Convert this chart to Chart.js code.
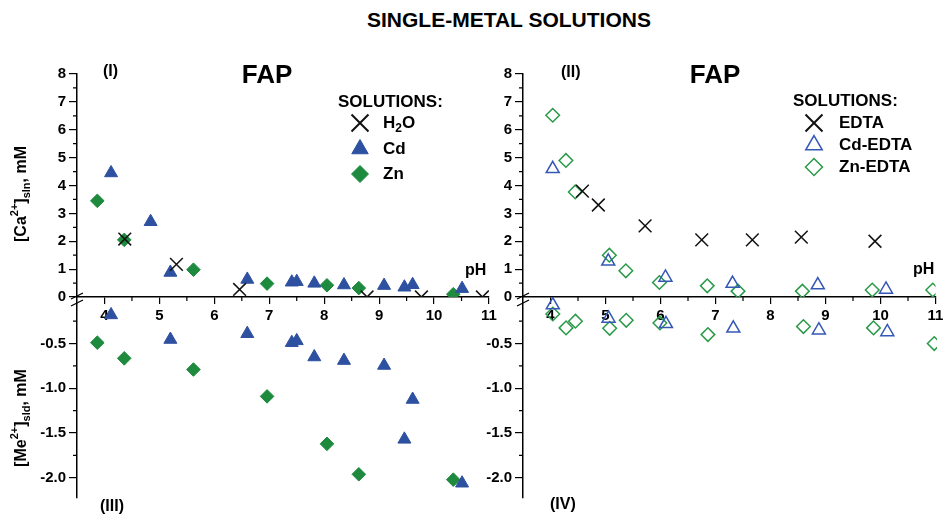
<!DOCTYPE html>
<html>
<head>
<meta charset="utf-8">
<script src="https://cdn.jsdelivr.net/npm/chart.js@4.4.1/dist/chart.umd.min.js"></script>
<style>
  body { margin: 0; background: #fff; }
  #wrap { position: relative; width: 946px; height: 528px; overflow: hidden; }
  #wrap canvas { position: absolute; left: 0; top: 0; }
  #title { position: absolute; left: 367px; top: 8px; font: bold 21px "Liberation Sans", Arial, sans-serif; color: #000; white-space: nowrap; }
</style>
</head>
<body>
<div id="wrap">
  <div id="title">SINGLE-METAL SOLUTIONS</div>
  <canvas id="c1" width="946" height="528"></canvas>
  <canvas id="c2" width="946" height="528"></canvas>
  <canvas id="c3" width="946" height="528"></canvas>
  <canvas id="c4" width="946" height="528"></canvas>
</div>
<script>
// pH ticks shared by all four panels
const phTicks = [4, 5, 6, 7, 8, 9, 10, 11];
const caTicks = [0, 1, 2, 3, 4, 5, 6, 7, 8];
const meTicks = [-0.5, -1.0, -1.5, -2.0];

// (I) / (III) single-metal solutions
const phH2O = [4.37, 5.31, 6.46, 8.78, 9.77, 10.88];
const caH2O = [2.08, 1.17, 0.27, 0, 0, 0];

const phCd = [4.12, 4.84, 5.2, 6.6, 7.41, 7.5, 7.82, 8.36, 9.09, 9.46, 9.61, 10.51];
const caCd = [4.45, 2.7, 0.88, 0.63, 0.53, 0.55, 0.49, 0.43, 0.41, 0.35, 0.44, 0.30];
const meCd = [-0.18, null, -0.455, -0.39, -0.49, -0.47, -0.65, -0.69, -0.745, -1.57, -1.125, -2.06];

const phZn = [3.87, 4.36, 5.62, 6.96, 8.05, 8.63, 10.35];
const caZn = [3.45, 2.05, 0.98, 0.48, 0.42, 0.32, 0.1];
const meZn = [-0.49, -0.665, -0.79, -1.09, -1.62, -1.96, -2.02];

// (II) / (IV) EDTA solutions
const phEDTA = [4.58, 4.87, 5.72, 6.75, 7.67, 8.56, 9.9];
const caEDTA = [3.8, 3.3, 2.55, 2.05, 2.05, 2.15, 2.0];

const phCdEDTA = [4.04, 5.05, 6.09, 7.31, 8.86, 10.1];
const caCdEDTA = [4.6, 1.28, 0.7, 0.48, 0.43, 0.27];
const meCdEDTA = [-0.07, -0.22, -0.28, -0.33, -0.35, -0.37];

const phZnEDTA = [4.04, 4.28, 4.45, 5.07, 5.37, 5.98, 6.85, 7.41, 8.58, 9.85, 10.95];
const caZnEDTA = [6.52, 4.9, 3.77, 1.5, 0.94, 0.52, 0.4, 0.21, 0.21, 0.25, 0.25];
const meZnEDTA = [-0.17, -0.325, -0.25, -0.33, -0.24, -0.27, -0.40, null, -0.31, -0.325, -0.5];

const FONT = '"Liberation Sans", Arial, sans-serif';
const BLUE = '#2e50a0', GREEN = '#1e8a3e', OBLUE = '#3558b5', OGREEN = '#2a9a48';

function pts(xs, ys) {
  return xs.map((x, i) => ({ x: x, y: ys[i] })).filter(p => p.y !== null);
}

function xCross(label, xs, ys) {
  return { label, data: pts(xs, ys), pointStyle: 'crossRot', pointRadius: 9, borderColor: '#111', backgroundColor: '#111', borderWidth: 1.5 };
}
function tri(label, xs, ys, open) {
  return { label, data: pts(xs, ys), pointStyle: 'triangle', pointRadius: 7.5,
    borderColor: open ? OBLUE : BLUE, backgroundColor: open ? 'rgba(0,0,0,0)' : BLUE, borderWidth: open ? 1.5 : 1 };
}
function dia(label, xs, ys, open) {
  return { label, data: pts(xs, ys), pointStyle: 'rectRot', pointRadius: 6.8,
    borderColor: open ? OGREEN : GREEN, backgroundColor: open ? 'rgba(0,0,0,0)' : GREEN, borderWidth: open ? 1.5 : 1 };
}

// text with super/subscripts: parts = [[text, shift]] shift 1 sup, -1 sub
function drawRich(ctx, parts, x, y, size, align) {
  const small = Math.round(size * 0.7);
  const f = s => 'bold ' + s + 'px ' + FONT;
  let w = 0;
  parts.forEach(p => { ctx.font = f(p[1] ? small : size); w += ctx.measureText(p[0]).width; });
  let cx = align === 'center' ? x - w / 2 : x;
  ctx.textAlign = 'left';
  ctx.textBaseline = 'middle';
  parts.forEach(p => {
    ctx.font = f(p[1] ? small : size);
    const dy = p[1] > 0 ? -size * 0.42 : p[1] < 0 ? size * 0.32 : 0;
    ctx.fillText(p[0], cx, y + dy);
    cx += ctx.measureText(p[0]).width;
  });
}

function decor(cfg) {
  return {
    id: 'decor',
    afterDraw(chart) {
      const ctx = chart.ctx, area = chart.chartArea;
      const xs = chart.scales.x, ys = chart.scales.y;
      ctx.save();
      ctx.strokeStyle = '#000';
      ctx.fillStyle = '#000';
      ctx.lineWidth = 1.2;
      ctx.beginPath();
      (cfg.xMinor || []).forEach(v => {
        const p = xs.getPixelForValue(v);
        ctx.moveTo(p, area.bottom); ctx.lineTo(p, area.bottom + 4);
      });
      (cfg.yMinor || []).forEach(v => {
        const p = ys.getPixelForValue(v);
        ctx.moveTo(area.left - 4, p); ctx.lineTo(area.left, p);
      });
      ctx.stroke();

      if (cfg.breakMark) {
        const bx = area.left, by = area.top;
        ctx.lineWidth = 1.3;
        ctx.beginPath();
        ctx.moveTo(bx - 6, by + 2); ctx.lineTo(bx + 6, by - 4);
        ctx.moveTo(bx - 6, by + 9); ctx.lineTo(bx + 6, by + 3);
        ctx.stroke();
      }

      (cfg.texts || []).forEach(t => {
        if (t.rot) {
          ctx.save();
          ctx.translate(t.x, t.y);
          ctx.rotate(-Math.PI / 2);
          drawRich(ctx, t.parts, 0, 0, t.size, 'center');
          ctx.restore();
        } else {
          drawRich(ctx, t.parts, t.x, t.y, t.size, t.align);
        }
      });

      const lg = cfg.legend;
      if (lg) {
        drawRich(ctx, [['SOLUTIONS:', 0]], lg.x, lg.y, 17, 'left');
        lg.rows.forEach((r, i) => {
          const ds = chart.data.datasets[i];
          ctx.fillStyle = ds.backgroundColor;
          ctx.strokeStyle = ds.borderColor;
          ctx.lineWidth = ds.pointStyle === 'crossRot' ? 2 : ds.borderWidth;
          Chart.helpers.drawPoint(ctx, { pointStyle: ds.pointStyle, radius: r.r, rotation: 0, borderWidth: ctx.lineWidth }, lg.mx, r.y);
          ctx.fillStyle = '#000';
          drawRich(ctx, r.label, lg.lx, r.y, 17, 'left');
        });
      }
      ctx.restore();
    }
  };
}

function axisStyle(len) {
  return {
    grid: { display: true, drawOnChartArea: false, drawTicks: true, tickLength: len, color: '#000', lineWidth: 1.2 },
    border: { display: true, color: '#000', width: 1.5 },
    ticks: { color: '#000', font: { family: FONT, weight: 'bold', size: 15 }, padding: 3 }
  };
}

function makePanel(id, datasets, opt) {
  const xAxis = Object.assign(axisStyle(7), {
    type: 'linear', min: 3.5, max: 11, display: opt.showX,
    afterBuildTicks: s => { s.ticks = phTicks.map(v => ({ value: v })); },
    afterFit: s => { s.height = 30; s.paddingLeft = 0; s.paddingRight = 0; }
  });
  xAxis.ticks.callback = v => String(v);
  const yAxis = Object.assign(axisStyle(8), {
    type: 'linear', min: opt.yMin, max: opt.yMax,
    afterBuildTicks: s => { s.ticks = opt.yTicks.map(v => ({ value: v })); },
    afterFit: s => { s.width = opt.yWidth; s.paddingTop = 0; s.paddingBottom = 0; }
  });
  yAxis.ticks.callback = opt.yFmt;
  return new Chart(document.getElementById(id), {
    type: 'scatter',
    data: { datasets: datasets },
    options: {
      responsive: false,
      animation: false,
      events: [],
      layout: { padding: opt.padding },
      plugins: { legend: { display: false }, tooltip: { enabled: false } },
      scales: { x: xAxis, y: yAxis }
    },
    plugins: [decor(opt.decor)]
  });
}

const xMinor = [4.5, 5.5, 6.5, 7.5, 8.5, 9.5, 10.5];
const caMinor = [0.5, 1.5, 2.5, 3.5, 4.5, 5.5, 6.5, 7.5];
const meMinor = [-0.25, -0.75, -1.25, -1.75];
const intFmt = v => String(v);
const oneDec = v => v.toFixed(1);

// (I)
makePanel('c1', [xCross('H2O', phH2O, caH2O), tri('Cd', phCd, caCd), dia('Zn', phZn, caZn)], {
  showX: true, yMin: 0, yMax: 8, yTicks: caTicks, yFmt: intFmt, yWidth: 77,
  padding: { left: 0, top: 74, right: 946 - 489, bottom: 528 - 297 - 30 },
  decor: {
    xMinor: xMinor, yMinor: caMinor,
    texts: [
      { parts: [['FAP', 0]], x: 267, y: 76, size: 26, align: 'center' },
      { parts: [['(I)', 0]], x: 103, y: 72, size: 16 },
      { parts: [['pH', 0]], x: 465, y: 271, size: 16 },
      { parts: [['[Ca', 0], ['2+', 1], [']', 0], ['sln', -1], [', mM', 0]], x: 22, y: 194, size: 16, rot: true }
    ],
    legend: { x: 338, y: 102, mx: 360, lx: 383, rows: [
      { y: 123, r: 12, label: [['H', 0], ['2', -1], ['O', 0]] },
      { y: 149, r: 9.5, label: [['Cd', 0]] },
      { y: 174, r: 8.5, label: [['Zn', 0]] }
    ] }
  }
});

// (II)
makePanel('c2', [xCross('EDTA', phEDTA, caEDTA), tri('Cd-EDTA', phCdEDTA, caCdEDTA, true), dia('Zn-EDTA', phZnEDTA, caZnEDTA, true)], {
  showX: true, yMin: 0, yMax: 8, yTicks: caTicks, yFmt: intFmt, yWidth: 43,
  padding: { left: 480, top: 74, right: 946 - 937, bottom: 528 - 297 - 30 },
  decor: {
    xMinor: xMinor, yMinor: caMinor,
    texts: [
      { parts: [['FAP', 0]], x: 715, y: 76, size: 26, align: 'center' },
      { parts: [['(II)', 0]], x: 561, y: 73, size: 16 },
      { parts: [['pH', 0]], x: 913, y: 270, size: 16 }
    ],
    legend: { x: 793, y: 101, mx: 814, lx: 839, rows: [
      { y: 123, r: 12, label: [['EDTA', 0]] },
      { y: 145, r: 9.5, label: [['Cd-EDTA', 0]] },
      { y: 167, r: 8.5, label: [['Zn-EDTA', 0]] }
    ] }
  }
});

// (III)
makePanel('c3', [tri('Cd', phCd, meCd), dia('Zn', phZn, meZn)], {
  showX: false, yMin: -2.225, yMax: 0.02, yTicks: meTicks, yFmt: oneDec, yWidth: 77,
  padding: { left: 0, top: 297, right: 946 - 489, bottom: 0 },
  decor: {
    yMinor: meMinor, breakMark: true,
    texts: [
      { parts: [['(III)', 0]], x: 100, y: 507, size: 16 },
      { parts: [['[Me', 0], ['2+', 1], [']', 0], ['sld', -1], [', mM', 0]], x: 22, y: 418, size: 16, rot: true }
    ]
  }
});

// (IV)
makePanel('c4', [tri('Cd-EDTA', phCdEDTA, meCdEDTA, true), dia('Zn-EDTA', phZnEDTA, meZnEDTA, true)], {
  showX: false, yMin: -2.225, yMax: 0.02, yTicks: meTicks, yFmt: oneDec, yWidth: 43,
  padding: { left: 480, top: 297, right: 946 - 937, bottom: 0 },
  decor: {
    yMinor: meMinor, breakMark: true,
    texts: [
      { parts: [['(IV)', 0]], x: 550, y: 505, size: 16 }
    ]
  }
});
</script>
</body>
</html>
